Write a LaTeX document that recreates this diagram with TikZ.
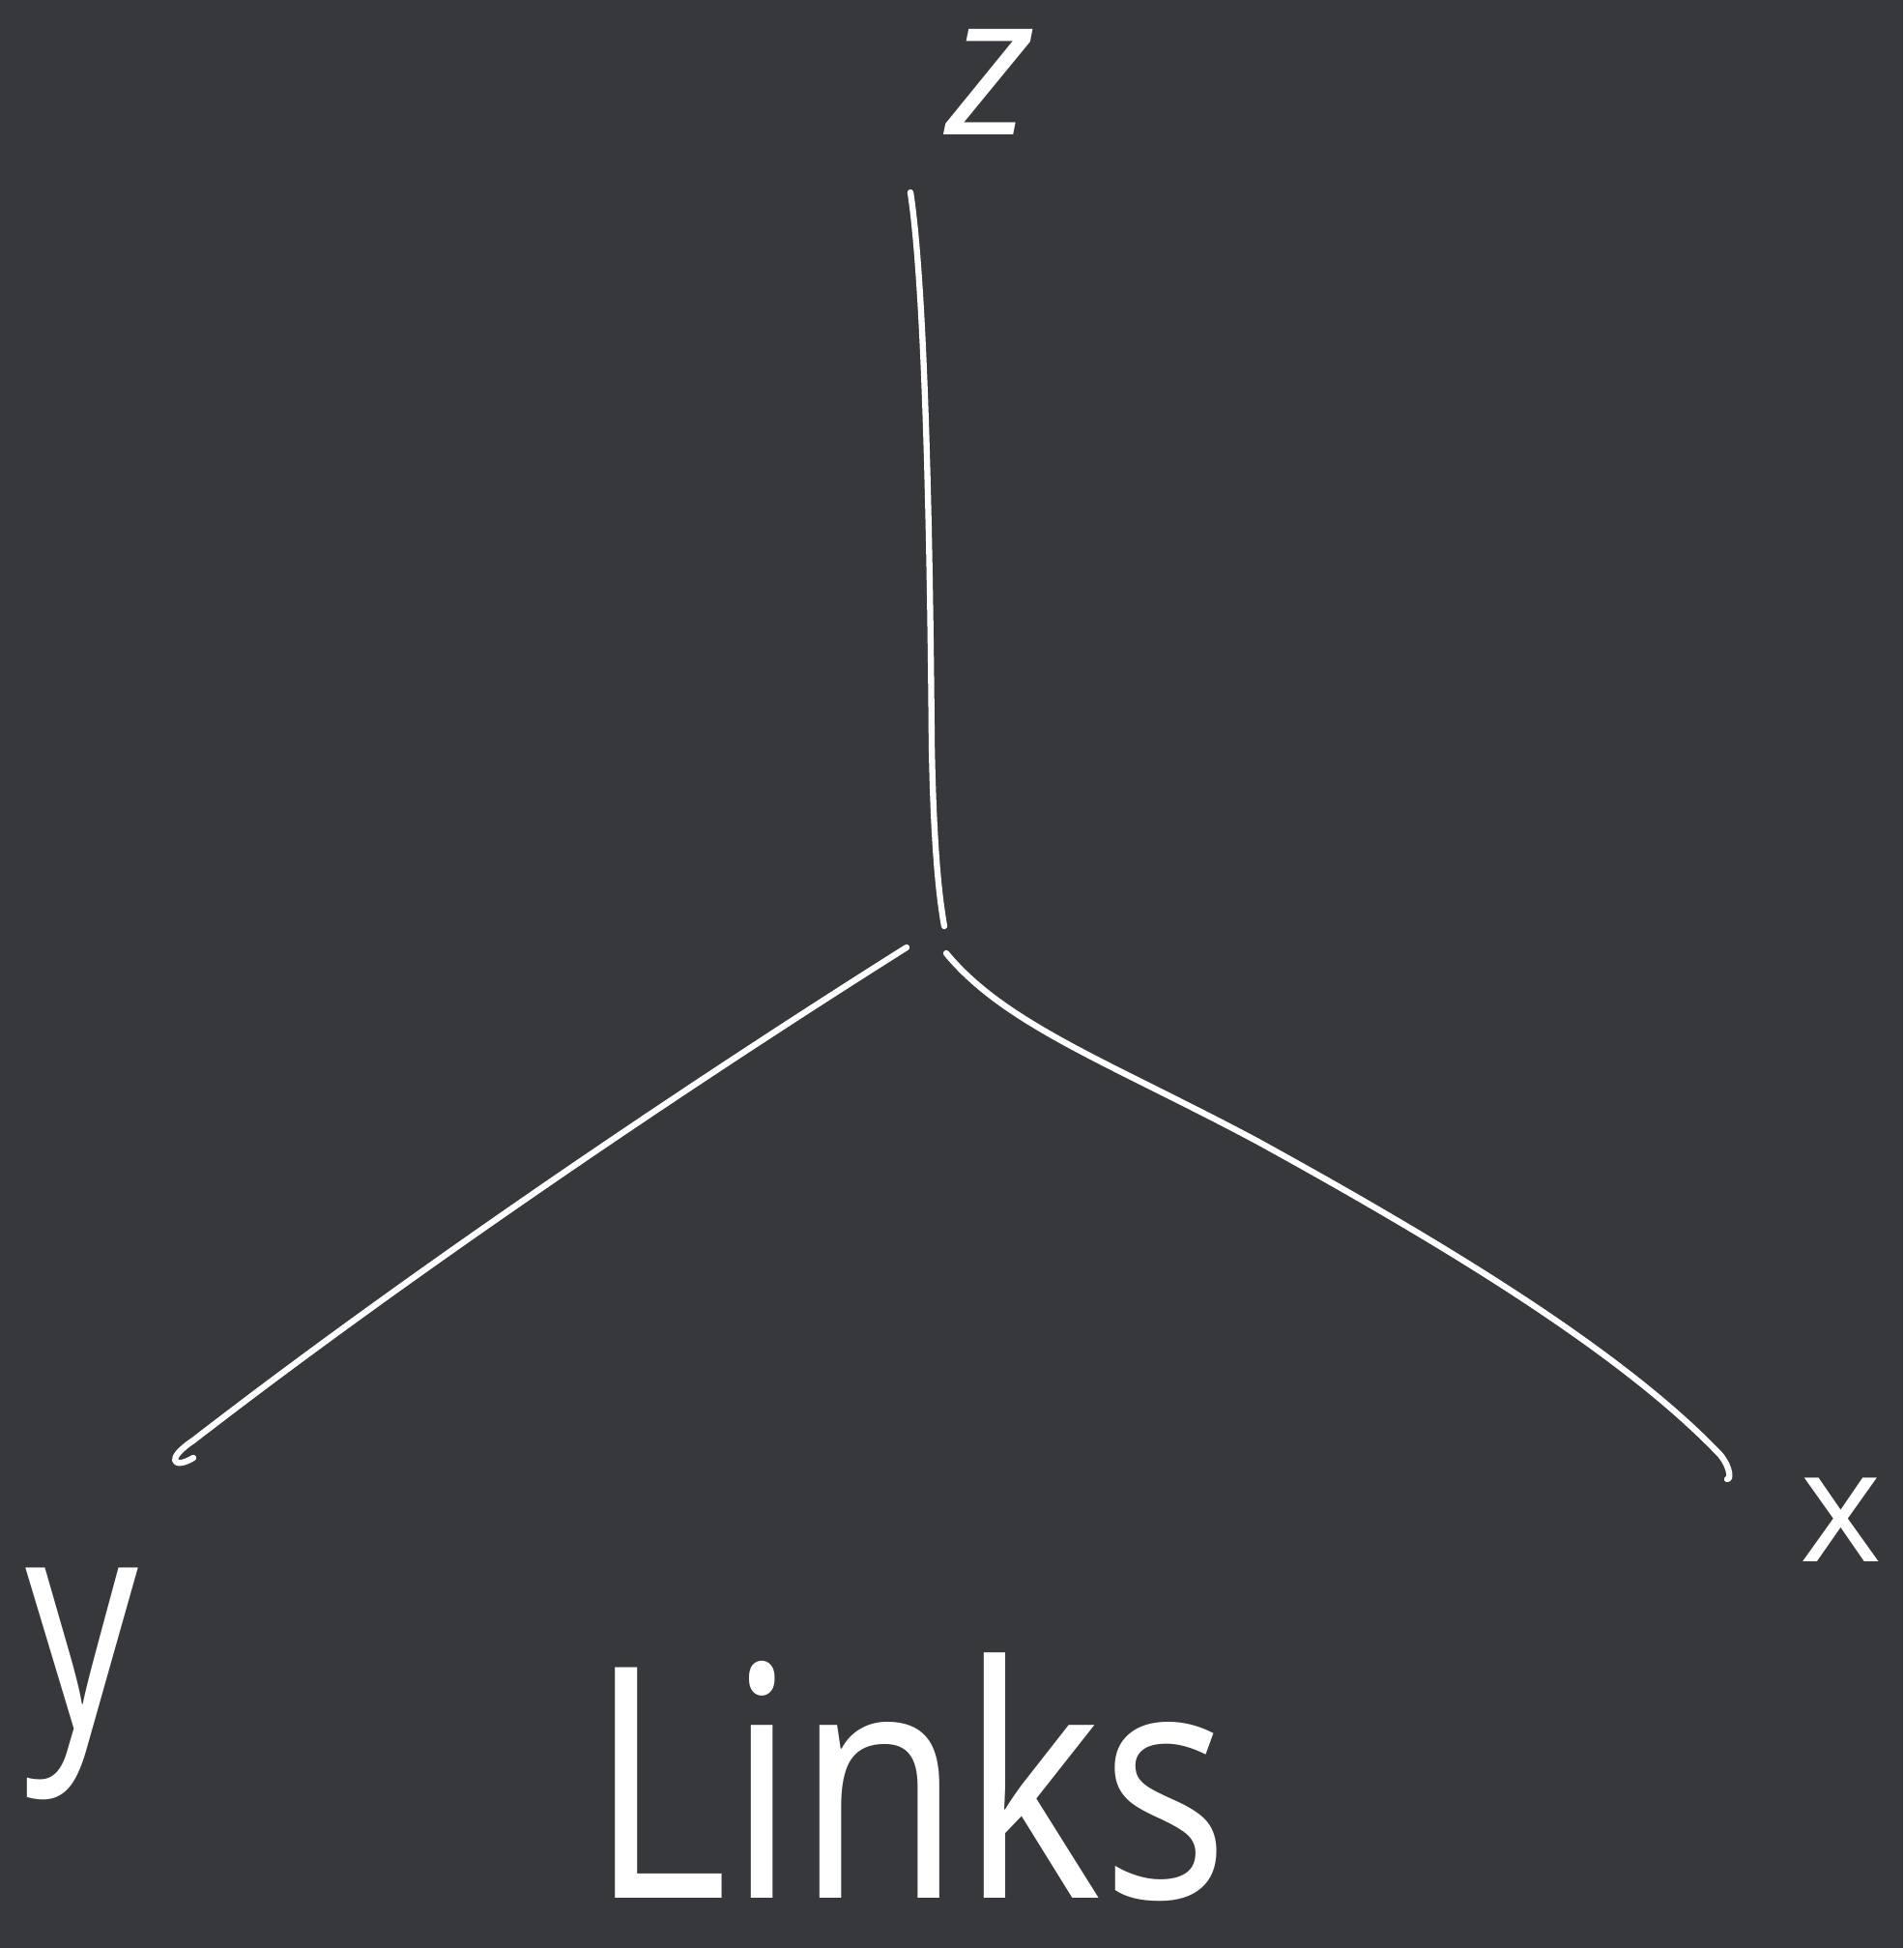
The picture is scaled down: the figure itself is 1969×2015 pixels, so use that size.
\documentclass[tikz,border=0pt]{standalone}
\usepackage{fontspec}
\setmainfont{Open Sans}
\definecolor{board}{HTML}{37383B}
\tikzset{
	chalk/.style={draw=white, line width=1.8pt, line cap=round, line join=round},
	axislabel/.style={text=white, inner sep=0pt}
}
\begin{document}
\begin{tikzpicture}[x=0.01cm, y=-0.01cm]
			% Board
			\fill[board] (0,0) rectangle (1969,2015);
			\useasboundingbox (0,0) rectangle (1969,2015);
			
			% Axis end points (hand drawn, they do not quite meet)
			\coordinate (ztop) at (942,199);
			\coordinate (zfoot) at (977,958);
			\coordinate (yfoot) at (938,980);
			\coordinate (ytip) at (177,1510);
			\coordinate (xfoot) at (979,986);
			\coordinate (xtip) at (1787,1530);
			
			% Axes
			\draw[chalk] (ztop) .. controls (956,290) and (962,520) .. (964,770)
				.. controls (966,880) and (972,930) .. (zfoot);
			\draw[chalk] (yfoot) .. controls (700,1130) and (420,1320) .. (200,1490)
				.. controls (170,1510) and (180,1520) .. (200,1508);
			\draw[chalk] (xfoot) .. controls (1040,1060) and (1150,1100) .. (1300,1180)
				.. controls (1500,1290) and (1680,1400) .. (1780,1505)
				.. controls (1792,1520) and (1790,1532) .. (xtip);
			
			% Labels
			\node[axislabel, font=\fontsize{58}{58}\selectfont\itshape] (zlab) at (1025,85) {z};
			\node[axislabel, xscale=0.75, font=\fontsize{88}{88}\selectfont] (ylab) at (85,1742) {y};
			\node[axislabel, font=\fontsize{46}{46}\selectfont] (xlab) at (1905,1572) {x};
			
			% Title
			\node[axislabel, xscale=0.83, font=\fontsize{95}{95}\selectfont] (title) at (941,1838) {Links};
		\end{tikzpicture}
\end{document}
